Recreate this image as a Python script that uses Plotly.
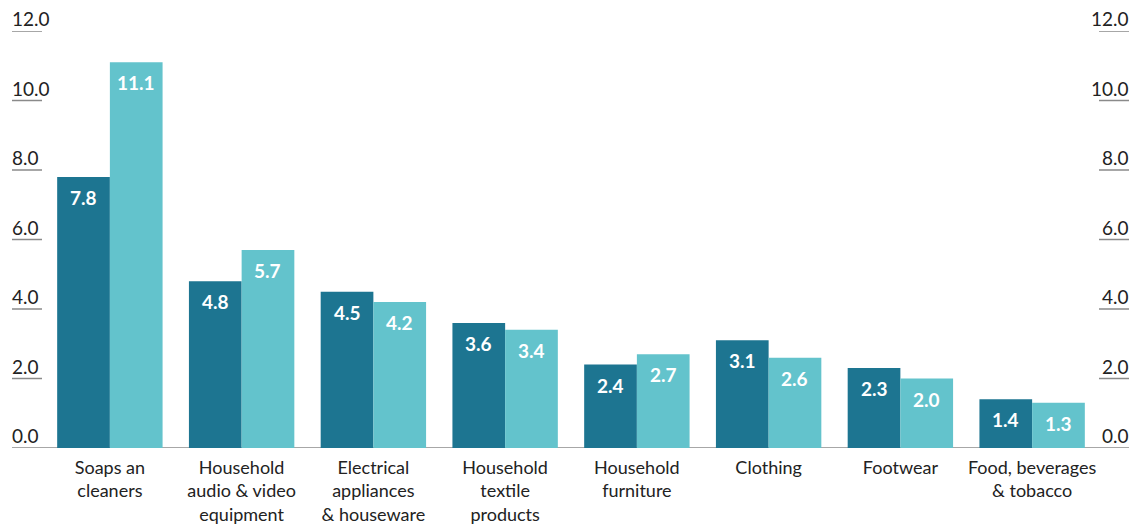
import plotly.graph_objects as go

categories = ["Soaps an<br>cleaners", "Household<br>audio & video<br>equipment",
              "Electrical<br>appliances<br>& houseware", "Household<br>textile<br>products",
              "Household<br>furniture", "Clothing", "Footwear", "Food, beverages<br>& tobacco"]
series_a = [7.8, 4.8, 4.5, 3.6, 2.4, 3.1, 2.3, 1.4]
series_b = [11.1, 5.7, 4.2, 3.4, 2.7, 2.6, 2.0, 1.3]
y_ticks = [0, 2, 4, 6, 8, 10, 12]
y_tick_labels = ["0.0", "2.0", "4.0", "6.0", "8.0", "10.0", "12.0"]

DARK = "#1d7591"
LIGHT = "#63c3cc"
FONT = "Lato"

fig = go.Figure()
for vals, col in [(series_a, DARK), (series_b, LIGHT)]:
    fig.add_trace(go.Bar(
        x=categories, y=vals, marker=dict(color=col, line=dict(width=0)),
        showlegend=False, hoverinfo="x+y"))

# page has an 8px body margin; figure sized to fit the window
OFF = 8
W, H = 1145 - OFF, 526 - OFF
L, R, T, B = 44 - OFF, 47, 31 - OFF, 78
pw = W - L - R
def px(x):
    return (x - OFF - L) / pw

shapes = []
annotations = []
for v, lab in zip(y_ticks, y_tick_labels):
    if v == 0:
        shapes.append(dict(type="line", xref="paper", yref="y", x0=px(12), x1=px(1129),
                           y0=v, y1=v, line=dict(color="#8a8a8a", width=1.5), layer="below"))
    else:
        shapes.append(dict(type="line", xref="paper", yref="y", x0=px(12), x1=px(42),
                           y0=v, y1=v, line=dict(color="#8a8a8a", width=1.5)))
        shapes.append(dict(type="line", xref="paper", yref="y", x0=px(1099), x1=px(1129),
                           y0=v, y1=v, line=dict(color="#8a8a8a", width=1.5)))
    annotations.append(dict(xref="paper", yref="y", x=px(10), y=v, text=lab, showarrow=False,
                            xanchor="left", yanchor="bottom", yshift=-1,
                            font=dict(family=FONT, size=19, color="#222222")))
    annotations.append(dict(xref="paper", yref="y", x=px(1131), y=v, text=lab, showarrow=False,
                            xanchor="right", yanchor="bottom", yshift=-1,
                            font=dict(family=FONT, size=19, color="#222222")))

for i in range(len(categories)):
    for vals, dx in [(series_a, -0.2), (series_b, 0.2)]:
        annotations.append(dict(xref="x", yref="y", x=i + dx, y=vals[i], text=f"{vals[i]:.1f}",
                                showarrow=False, xanchor="center", yanchor="top", yshift=-7,
                                font=dict(family=FONT, size=19, color="white", weight="bold")))

fig.update_layout(
    width=W, height=H,
    margin=dict(l=L, r=R, t=T, b=B),
    paper_bgcolor="white", plot_bgcolor="white",
    barmode="group", bargap=0.2, bargroupgap=0,
    xaxis=dict(showgrid=False, showline=False, ticks="", zeroline=False, automargin=False,
               ticklabelstandoff=7,
               tickfont=dict(family=FONT, size=18, color="#222222")),
    yaxis=dict(range=[0, 12], showgrid=False, showline=False, zeroline=False, automargin=False,
               showticklabels=False, ticks=""),
    shapes=shapes, annotations=annotations,
)
fig.write_html("out.html")
